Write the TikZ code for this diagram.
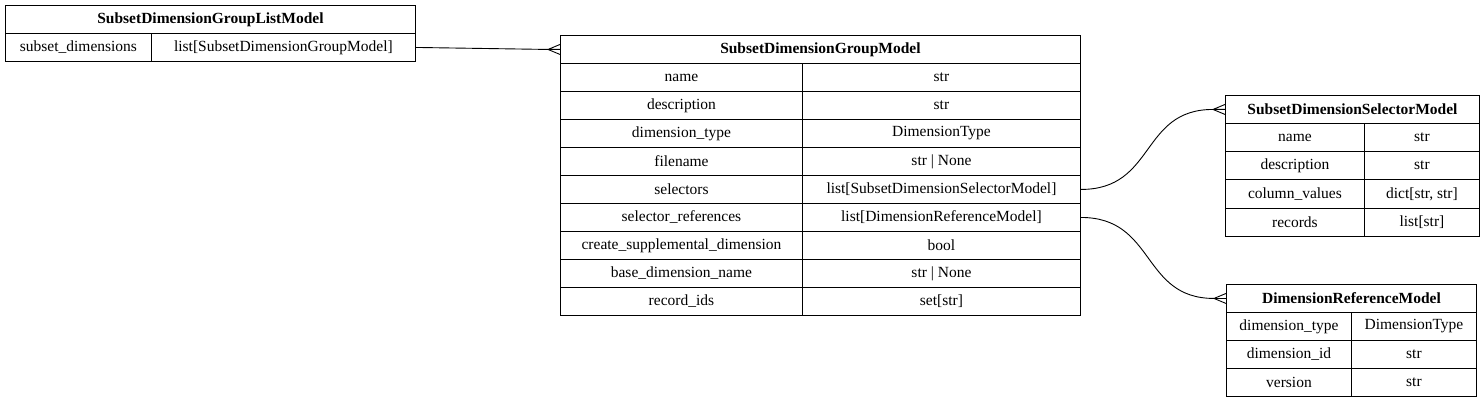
\documentclass[tikz,border=0pt]{standalone}
\usepackage{fontspec}
\setmainfont{Liberation Serif}
\usetikzlibrary{calc}
\begin{document}
\begin{tikzpicture}[x=1pt,y=-1pt,
  cell/.style={draw,line width=0.9pt,anchor=north west,inner sep=0pt,minimum height=28pt,font=\fontsize{15.5}{18}\selectfont},
  hd/.style={cell,font=\fontsize{15.5}{18}\selectfont\bfseries},
  edge/.style={line width=0.9pt}]
\useasboundingbox (0,0) rectangle (1484,401);
\newcommand{\crowfoot}[1]{\draw[edge] ($(#1.west)+(-12,0)$) -- ($(#1.west)+(0,-5)$) ($(#1.west)+(-12,0)$) -- (#1.west) ($(#1.west)+(-12,0)$) -- ($(#1.west)+(0,5)$);}
% T1
\node[hd,minimum width=410pt] (t1) at (5,5) {SubsetDimensionGroupListModel};
\node[cell,minimum width=146pt] (t1a) at (5,33) {subset\_dimensions};
\node[cell,minimum width=264pt] (t1b) at (151,33) {list[SubsetDimensionGroupModel]};
% T2
\node[hd,minimum width=520pt] (t2) at (560,35) {SubsetDimensionGroupModel};
\foreach \a/\b/\n [count=\i from 0] in {name/str/r0,description/str/r1,dimension\_type/DimensionType/r2,filename/str | None/r3,selectors/list[SubsetDimensionSelectorModel]/r4,selector\_references/list[DimensionReferenceModel]/r5,create\_supplemental\_dimension/bool/r6,base\_dimension\_name/str | None/r7,record\_ids/set[str]/r8}{
  \node[cell,minimum width=242pt] at (560,63+28*\i) {\a};
  \node[cell,minimum width=278pt] (t2\n) at (802,63+28*\i) {\b};
}
% T3
\node[hd,minimum width=254pt] (t3) at (1225,95) {SubsetDimensionSelectorModel};
\foreach \a/\b [count=\i from 0] in {name/str,description/str,column\_values/{dict[str, str]},records/list[str]}{
  \node[cell,minimum width=139pt] at (1225,123+28.25*\i) {\a};
  \node[cell,minimum width=115pt] at (1364,123+28.25*\i) {\b};
}
% T4
\node[hd,minimum width=250pt] (t4) at (1226,284) {DimensionReferenceModel};
\foreach \a/\b [count=\i from 0] in {dimension\_type/DimensionType,dimension\_id/str,version/str}{
  \node[cell,minimum width=125pt] at (1226,312+28*\i) {\a};
  \node[cell,minimum width=125pt] at (1351,312+28*\i) {\b};
}
% edges
\draw[edge] (t1b.east) -- ($(t2.west)+(-12,0)$);
\crowfoot{t2}
\draw[edge] (t2r4.east) .. controls ($(t2r4.east)+(75,0)$) and ($(t3.west)+(-85,0)$) .. ($(t3.west)+(-12,0)$);
\crowfoot{t3}
\draw[edge] (t2r5.east) .. controls ($(t2r5.east)+(75,0)$) and ($(t4.west)+(-85,0)$) .. ($(t4.west)+(-12,0)$);
\crowfoot{t4}
\end{tikzpicture}
\end{document}
